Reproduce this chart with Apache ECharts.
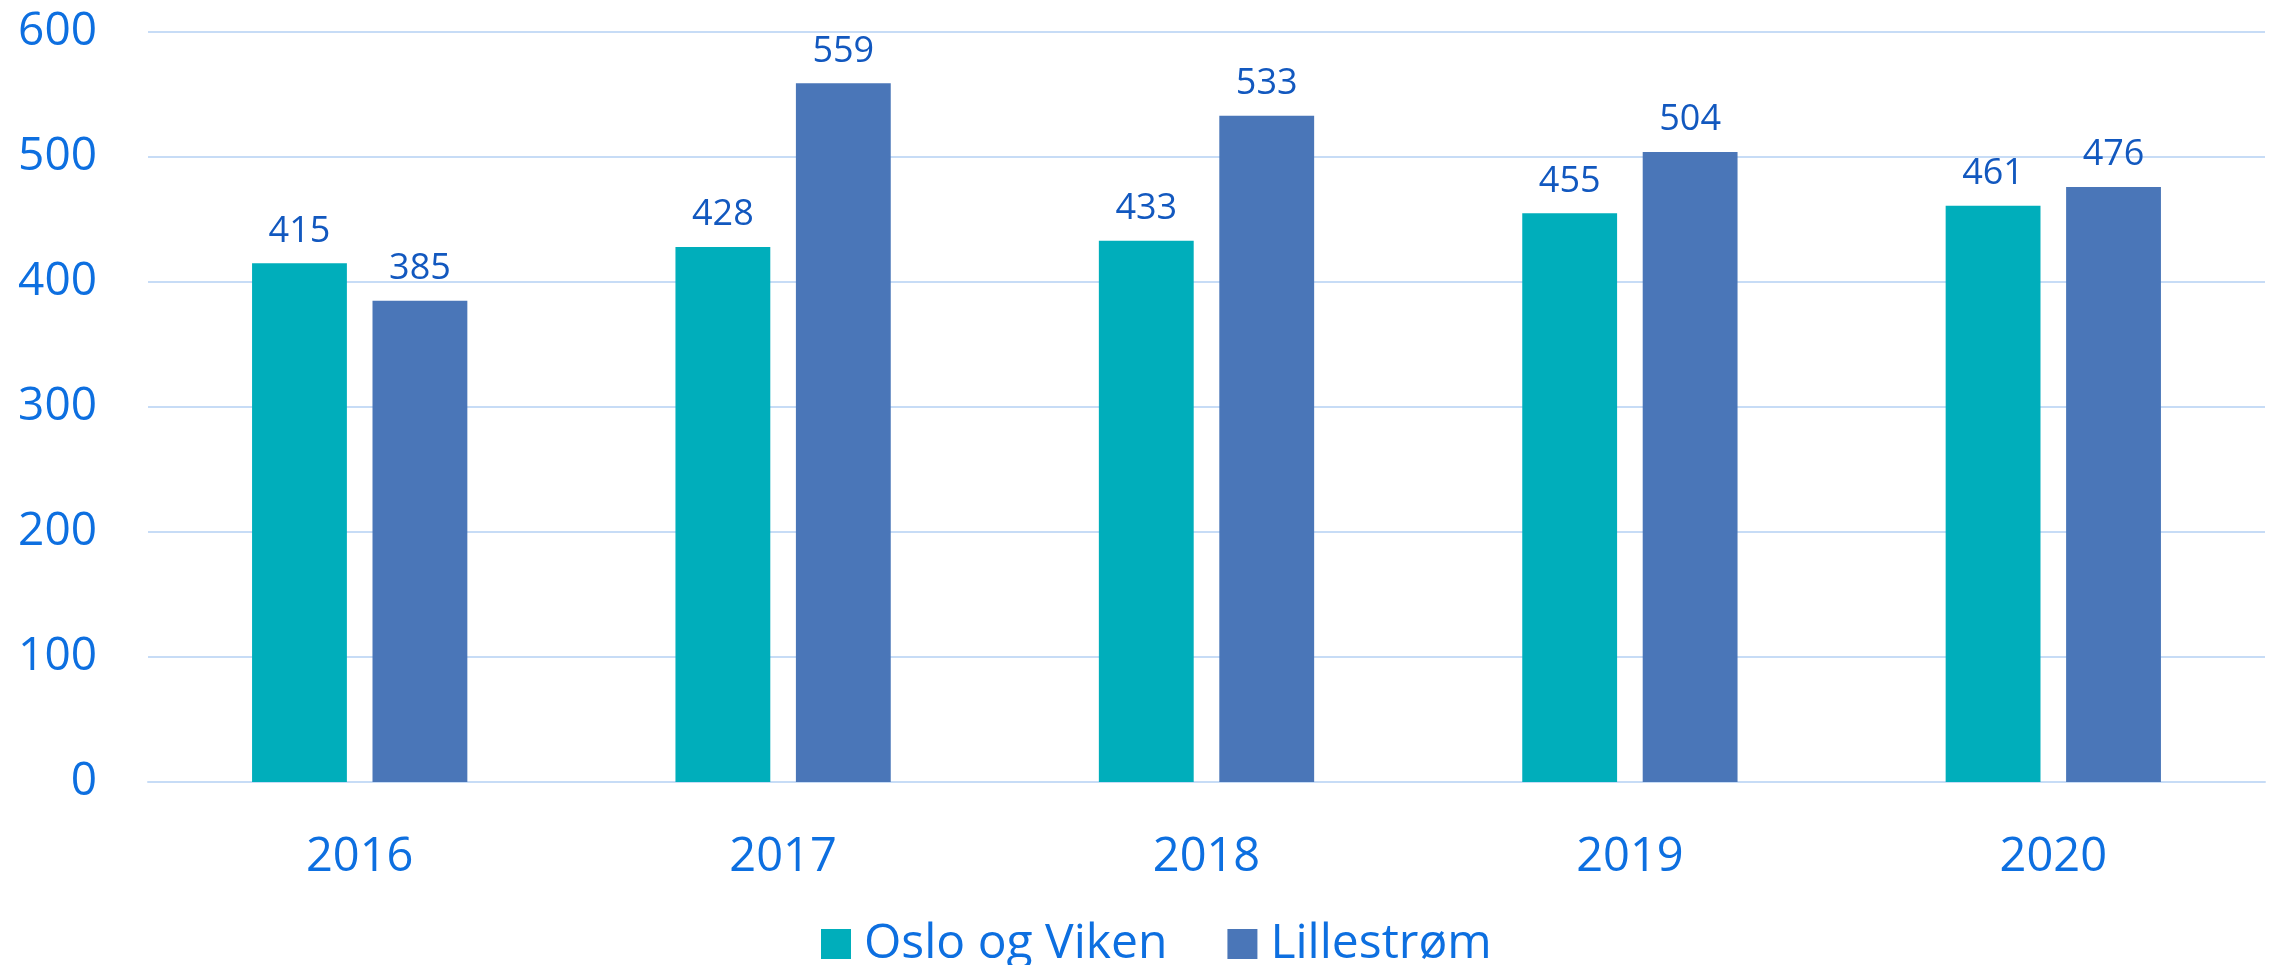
<!DOCTYPE html>
<html><head><meta charset="utf-8">
<script src="https://cdn.jsdelivr.net/npm/echarts@6/dist/echarts.min.js"></script>
<style>html,body{margin:0;padding:0;background:#fff}#c{width:2277px;height:965px}</style>
</head><body><div id="c"></div>
<script>
const categories = ['2016','2017','2018','2019','2020'];
const osloViken = [415, 428, 433, 455, 461];
const lillestrom = [385, 559, 533, 504, 476];
const seriesNames = ['Oslo og Viken', 'Lillestrøm'];
const yTicks = {min: 0, max: 600, interval: 100};

const chart = echarts.init(document.getElementById('c'), null, {renderer: 'canvas'});
const font = '"Open Sans", sans-serif';
const axisColor = '#0d6fe0';
const labelColor = '#1258bf';
const lbl = {show: true, position: 'top', distance: 14, color: labelColor, fontSize: 36, fontFamily: font};
chart.setOption({
  animation: false,
  grid: {left: 148, right: 12, top: 32, bottom: 183, containLabel: false},
  legend: {
    top: 915, left: 816, itemWidth: 30, itemHeight: 30, itemGap: 60,
    icon: 'rect',
    textStyle: {color: axisColor, fontSize: 48, fontFamily: font, padding: [0, 0, 0, 8]},
    data: seriesNames
  },
  xAxis: {
    type: 'category', data: categories,
    axisLine: {show: true, lineStyle: {color: '#c7dcf6', width: 2}},
    axisTick: {show: false},
    axisLabel: {color: axisColor, fontSize: 47, fontFamily: font, margin: 52}
  },
  yAxis: {
    type: 'value', min: yTicks.min, max: yTicks.max, interval: yTicks.interval,
    axisLine: {show: false}, axisTick: {show: false},
    splitLine: {lineStyle: {color: '#c7dcf6', width: 2}},
    axisLabel: {color: axisColor, fontSize: 46, fontFamily: font, margin: 51}
  },
  series: [
    {name: seriesNames[0], type: 'bar', data: osloViken, barWidth: '22.4%', barGap: '27%',
     itemStyle: {color: '#00aebb'}, label: lbl},
    {name: seriesNames[1], type: 'bar', data: lillestrom, barWidth: '22.4%',
     itemStyle: {color: '#4a76b8'}, label: lbl}
  ]
});
</script></body></html>
